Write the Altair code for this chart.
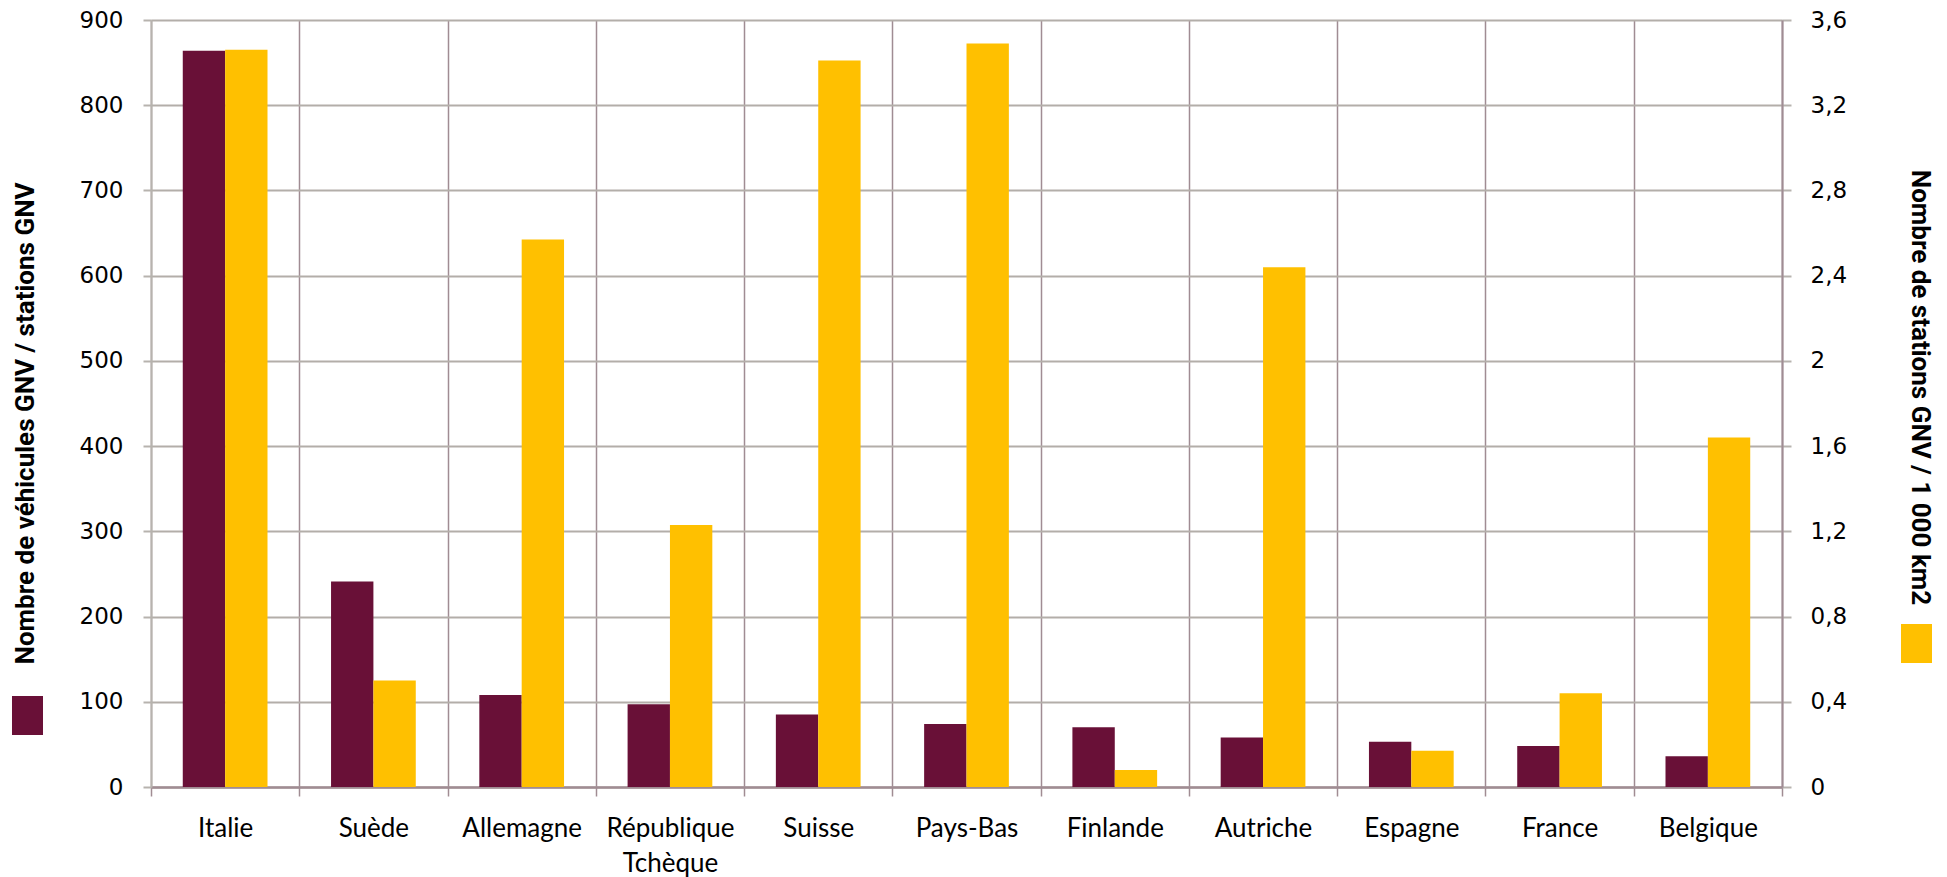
import altair as alt
import pandas as pd

countries = ["Italie", "Suède", "Allemagne", "République Tchèque", "Suisse", "Pays-Bas",
             "Finlande", "Autriche", "Espagne", "France", "Belgique"]
vehicles_per_station = [864, 241, 108, 97, 85, 74, 70, 58, 53, 48, 36]
stations_per_1000km2 = [3.46, 0.50, 2.57, 1.23, 3.41, 3.49, 0.08, 2.44, 0.17, 0.44, 1.64]

left_title = "Nombre de véhicules GNV / stations GNV"
right_title = "Nombre de stations GNV / 1 000 km2"
left_ticks = [0, 100, 200, 300, 400, 500, 600, 700, 800, 900]
right_ticks = [0, 0.4, 0.8, 1.2, 1.6, 2, 2.4, 2.8, 3.2, 3.6]

MAROON = "#691037"
GOLD = "#FFC000"
GRID_GREY = "#b3aea9"
MAUVE = "#a08c93"
TITLE_FONT = "Roboto"
LABEL_FONT = "Lato"
TICK_FONT = "DejaVu Sans"

df = pd.DataFrame({"pays": countries, "veh": vehicles_per_station, "sta": stations_per_1000km2})

x_axis = alt.Axis(title=None, labelAngle=0, labelFont=LABEL_FONT, labelFontSize=26,
                  labelColor="black", labelPadding=19, labelLineHeight=35,
                  labelExpr="split(datum.label, ' ')", labelOverlap=False,
                  tickBand="extent", tickSize=9, tickColor=MAUVE, tickWidth=1.5,
                  domainColor=MAUVE, domainWidth=2.5,
                  grid=True, gridColor=MAUVE, gridWidth=1.5)

x_enc = alt.X("pays:N", sort=countries,
              scale=alt.Scale(paddingInner=0, paddingOuter=0), axis=x_axis)
xoff_enc = alt.XOffset("grp:N", scale=alt.Scale(domain=["v", "s"], paddingOuter=0.75, paddingInner=0))

rect_path = "M-0.795,-1L0.795,-1L0.795,1L-0.795,1Z"

left = alt.Chart(df).transform_calculate(grp="'v'").mark_bar(color=MAROON).encode(
    x=x_enc,
    xOffset=xoff_enc,
    y=alt.Y("veh:Q", scale=alt.Scale(domain=[0, 900], nice=False),
            axis=alt.Axis(orient="left", values=left_ticks, format="d",
                          labelFont=TICK_FONT, labelFontSize=23, labelColor="black",
                          labelPadding=20, tickSize=8, tickColor="#b7b3ae", tickWidth=2,
                          domainColor="#b7b3ae", domainWidth=2,
                          grid=True, gridColor=GRID_GREY, gridWidth=2,
                          title=left_title, titleFont=TITLE_FONT, titleFontSize=26,
                          titleFontWeight="bold", titleColor="black", titleAngle=270,
                          titleX=-126, titleY=403, titleAlign="center", titleBaseline="middle")),
    color=alt.Color("grp:N", title=None,
                    scale=alt.Scale(domain=["v"], range=[MAROON]),
                    legend=alt.Legend(orient="none", legendX=-143, legendY=676,
                                      symbolType=rect_path, symbolSize=1521,
                                      symbolStrokeWidth=0, labelExpr="''",
                                      labelFontSize=1, padding=0)),
)

right = alt.Chart(df).transform_calculate(grp="'s'").mark_bar(color=GOLD).encode(
    x=x_enc,
    xOffset=xoff_enc,
    y=alt.Y("sta:Q", scale=alt.Scale(domain=[0, 3.6], nice=False),
            axis=alt.Axis(orient="right", values=right_ticks,
                          labelExpr="replace(format(datum.value, '.1~f'), '.', ',')",
                          labelFont=TICK_FONT, labelFontSize=23, labelColor="black",
                          labelPadding=19, tickSize=9, tickColor="#b7b3ae", tickWidth=2,
                          domainColor=MAUVE, domainWidth=2, grid=False,
                          title=right_title, titleFont=TITLE_FONT, titleFontSize=26,
                          titleFontWeight="bold", titleColor="black", titleAngle=90,
                          titleX=137, titleY=367, titleAlign="center", titleBaseline="middle")),
    color=alt.Color("grp:N", title=None,
                    scale=alt.Scale(domain=["s"], range=[GOLD]),
                    legend=alt.Legend(orient="none", legendX=1746, legendY=604,
                                      symbolType=rect_path, symbolSize=1521,
                                      symbolStrokeWidth=0, labelExpr="''",
                                      labelFontSize=1, padding=0)),
)

chart = alt.layer(left, right).resolve_scale(
    y="independent", color="independent"
).properties(
    width=1631, height=767,
    padding={"left": 151, "top": 20, "right": 165, "bottom": 90},
    autosize=alt.AutoSizeParams(type="none"),
    background="white",
).configure_view(stroke=None)

chart.save("out.html", embed_options={"renderer": "svg", "actions": False})
